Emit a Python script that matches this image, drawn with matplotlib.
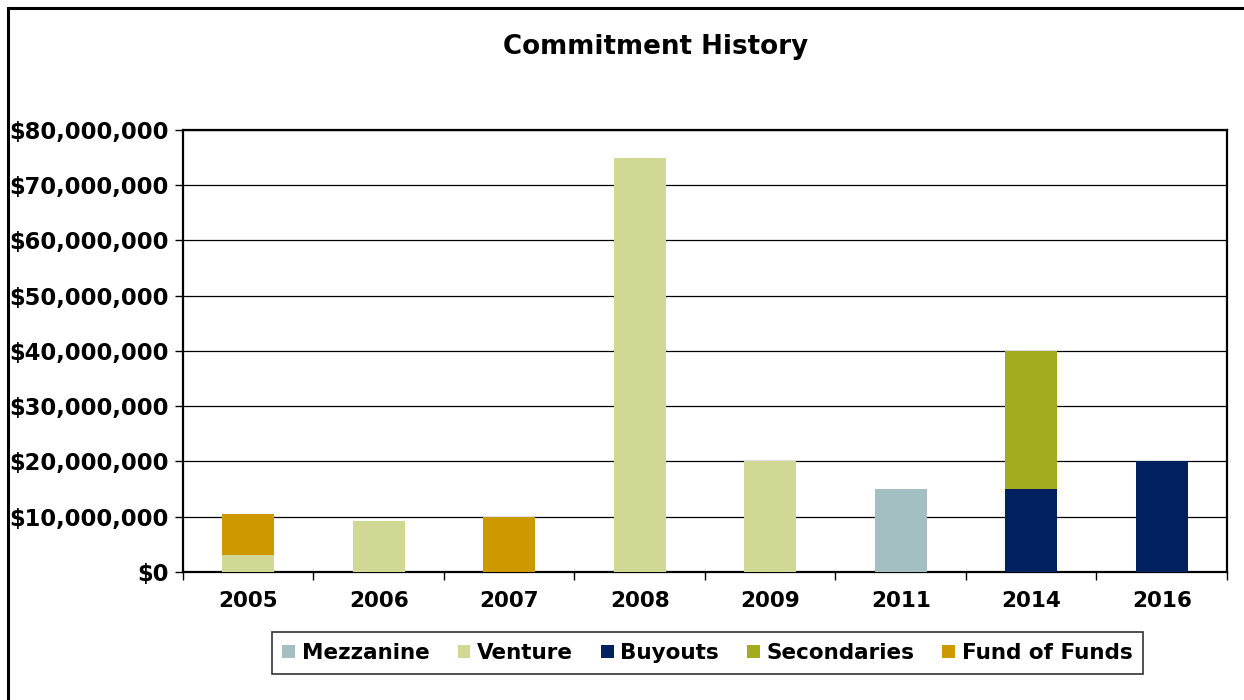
"""Commitment history stacked bar chart."""

import matplotlib
matplotlib.use("Agg")
import matplotlib.pyplot as plt
import numpy as np
from matplotlib.patches import Rectangle
from matplotlib.ticker import FuncFormatter, MultipleLocator

years = ["2005", "2006", "2007", "2008", "2009", "2011", "2014", "2016"]
strategies = ["Mezzanine", "Venture", "Buyouts", "Secondaries", "Fund of Funds"]
colors = ["#A3BFC1", "#D1D894", "#002060", "#A2AC1E", "#CC9900"]

# commitments per year, in dollars
mezzanine = [0, 0, 0, 0, 0, 15_000_000, 0, 0]
venture = [3_000_000, 9_200_000, 0, 75_000_000, 20_000_000, 0, 0, 0]
buyouts = [0, 0, 0, 0, 0, 0, 15_000_000, 20_000_000]
secondaries = [0, 0, 0, 0, 0, 0, 25_000_000, 0]
fund_of_funds = [7_500_000, 0, 10_000_000, 0, 0, 0, 0, 0]
series = [mezzanine, venture, buyouts, secondaries, fund_of_funds]

plt.rcParams["font.family"] = "DejaVu Sans"
plt.rcParams["font.weight"] = "bold"

fig = plt.figure(figsize=(12.44, 7.0), dpi=100)
ax = fig.add_axes([0.1471, 0.1829, 0.8392, 0.6314])

x = np.arange(len(years))
bottom = np.zeros(len(years))
for name, vals, col in zip(strategies, series, colors):
    vals = np.asarray(vals, dtype=float)
    ax.bar(x, vals, width=0.4, bottom=bottom, color=col, label=name, zorder=3)
    bottom += vals

ax.set_xlim(-0.5, len(years) - 0.5)
ax.set_ylim(0, 80_000_000)
ax.yaxis.set_major_locator(MultipleLocator(10_000_000))
ax.yaxis.set_major_formatter(FuncFormatter(lambda v, _: f"${v:,.0f}"))
ax.grid(axis="y", color="black", linewidth=0.9, zorder=0)

# category boundaries carry the ticks, centres carry the labels
ax.set_xticks(np.arange(len(years) + 1) - 0.5)
ax.set_xticklabels([])
ax.set_xticks(x, minor=True)
ax.set_xticklabels(years, minor=True)
ax.tick_params(axis="x", which="major", direction="out", length=6, width=1)
ax.tick_params(axis="x", which="minor", length=0, pad=14, labelsize=15.5)
ax.tick_params(axis="y", direction="out", length=6, width=1, labelsize=16.3, pad=4)

for spine in ax.spines.values():
    spine.set_linewidth(1.6)
    spine.set_color("black")

fig.suptitle("Commitment History", x=0.527, y=0.952, fontsize=18.8, fontweight="bold")

leg = fig.legend(loc="center", bbox_to_anchor=(0.5687, 0.067), ncol=5,
                 fontsize=15.5, frameon=True, fancybox=False, edgecolor="black",
                 handlelength=0.6, handleheight=0.6, handletextpad=0.3,
                 columnspacing=1.3, borderpad=0.5)
leg.get_frame().set_linewidth(1.2)

# outer chart frame, running off the right and bottom edges
fig.patches.append(Rectangle((8 / 1244, -0.05), 1.1, 1 - 8 / 700 + 0.05,
                             transform=fig.transFigure, fill=False,
                             edgecolor="black", linewidth=2.2))

fig.savefig("out.png", dpi=100)
